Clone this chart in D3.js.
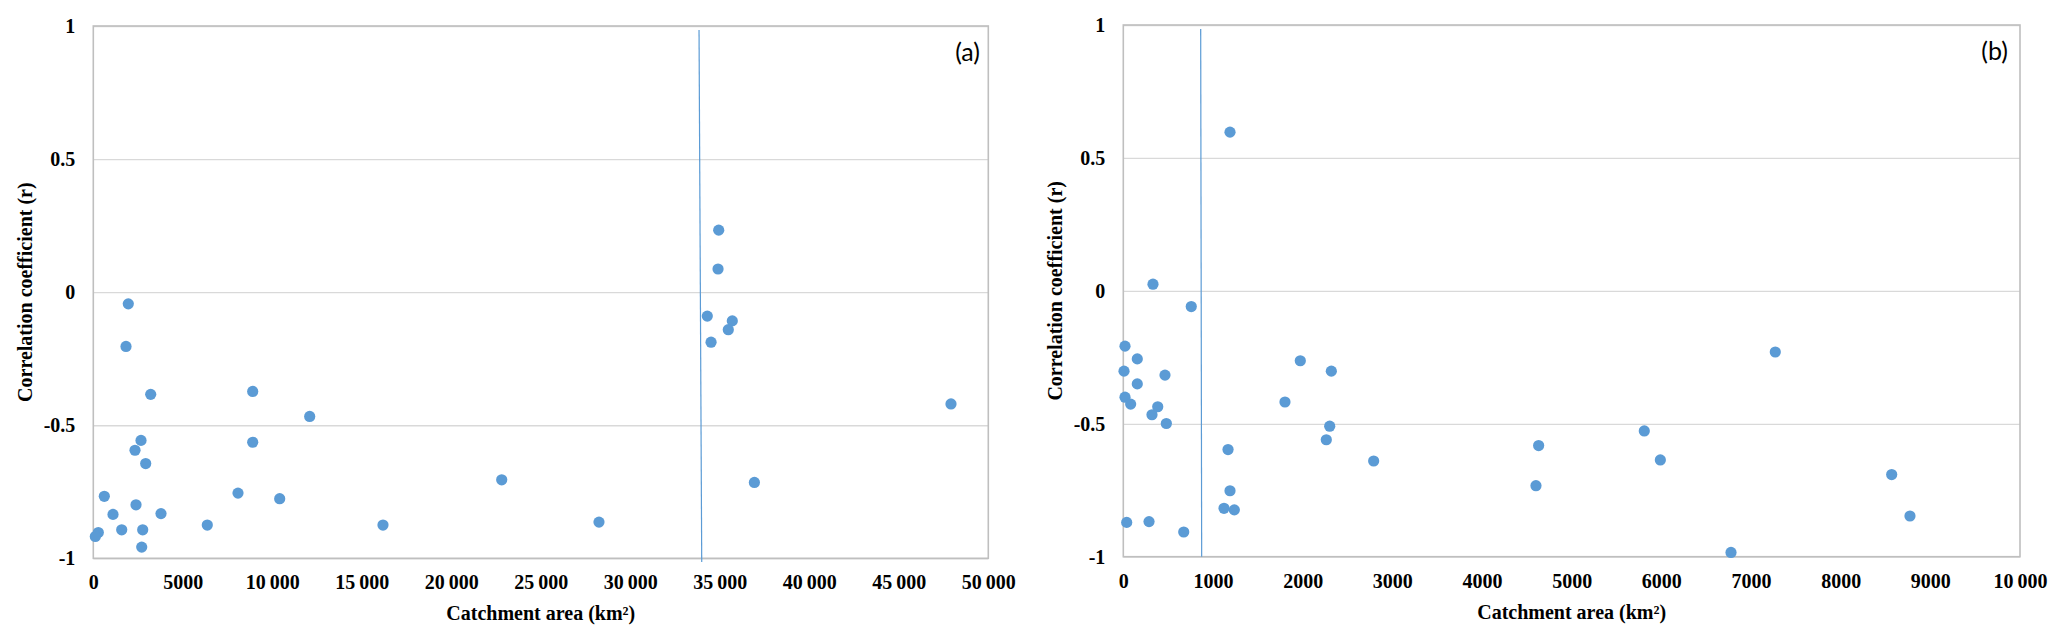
<!DOCTYPE html>
<html>
<head>
<meta charset="utf-8">
<script src="https://cdn.jsdelivr.net/npm/d3@7"></script>
<style>
  html, body { margin: 0; padding: 0; background: #fff; }
  svg { display: block; }
</style>
</head>
<body>
<svg id="chart" width="2067" height="643"></svg>
<script>
// ---------- Data ----------
// Panel (a): catchment area (km²) and correlation coefficient r
const areaA = [1955, 1827, 3207, 8905, 12089, 2665, 2330, 8905, 2927, 22816,
               615, 8084, 10413, 2386, 1101, 3782, 6369, 16184, 1587, 2760,
               279, 112, 2704, 28251, 36933, 47916, 34302, 35698, 35475, 34511,
               34939, 34902];
const corrA = [-0.044, -0.204, -0.384, -0.373, -0.467, -0.557, -0.594, -0.564, -0.644, -0.705,
               -0.767, -0.755, -0.776, -0.799, -0.835, -0.832, -0.875, -0.875, -0.893, -0.893,
               -0.903, -0.918, -0.958, -0.864, -0.715, -0.420, -0.090, -0.108, -0.141, -0.188,
               0.233, 0.087];
// Panel (b)
const areaB = [1190, 331, 758, 19, 156, 8, 465, 156, 19, 82,
               384, 320, 480, 1974, 2320, 1803, 2302, 2264, 1168, 2792,
               4632, 4602, 1190, 1123, 1238, 38, 287, 674, 7271, 5810,
               5989, 8569, 8773, 6777];
const corrB = [0.597, 0.025, -0.059, -0.208, -0.256, -0.302, -0.317, -0.350, -0.400, -0.426,
               -0.436, -0.466, -0.499, -0.263, -0.302, -0.418, -0.509, -0.560, -0.597, -0.640,
               -0.582, -0.733, -0.752, -0.818, -0.824, -0.871, -0.868, -0.907, -0.230, -0.527,
               -0.636, -0.691, -0.847, -0.984];
// Vertical reference lines (x at top, r at top, x at bottom, r at bottom)
const refLineA = [[33840, 0.985], [33990, -1.014]];
const refLineB = [[863, 0.985], [874, -1.0]];

const xTicksA = [0, 5000, 10000, 15000, 20000, 25000, 30000, 35000, 40000, 45000, 50000];
const xTicksB = [0, 1000, 2000, 3000, 4000, 5000, 6000, 7000, 8000, 9000, 10000];
const yTicks = [-1, -0.5, 0, 0.5, 1];

const xTitle = "Catchment area (km²)";
const yTitle = "Correlation coefficient (r)";

// ---------- Drawing ----------
const svg = d3.select("#chart");
const serif = "'Liberation Serif', 'Times New Roman', serif";
const dotColor = "#5B9BD5";

function fmtX(v) {
  if (v >= 10000) return d3.format(",")(v).replace(/,/g, "\u2009");
  return String(v);
}

function panel(cfg) {
  const x = d3.scaleLinear().domain(cfg.xDomain).range([cfg.left, cfg.right]);
  const y = d3.scaleLinear().domain([-1, 1]).range([cfg.bottom, cfg.top]);
  const w = cfg.right - cfg.left;
  const g = svg.append("g");

  // gridlines + y labels
  const yAxis = g.append("g")
    .attr("transform", `translate(${cfg.left},0)`)
    .call(d3.axisLeft(y).tickValues(yTicks).tickSize(-w).tickPadding(18)
      .tickFormat(d => String(d)));
  yAxis.select(".domain").remove();
  yAxis.selectAll(".tick line").attr("stroke", "#d9d9d9").attr("stroke-width", 1.3);
  yAxis.selectAll(".tick text")
    .attr("font-family", serif).attr("font-size", 20).attr("font-weight", "bold")
    .attr("fill", "#000");

  // x labels
  const xAxis = g.append("g")
    .attr("transform", `translate(0,${cfg.bottom})`)
    .call(d3.axisBottom(x).tickValues(cfg.xTicks).tickSize(0).tickPadding(17)
      .tickFormat(fmtX));
  xAxis.select(".domain").remove();
  xAxis.selectAll(".tick text")
    .attr("font-family", serif).attr("font-size", 20).attr("font-weight", "bold")
    .attr("fill", "#000");

  // frame
  g.append("rect")
    .attr("x", cfg.left).attr("y", cfg.top)
    .attr("width", w).attr("height", cfg.bottom - cfg.top)
    .attr("fill", "none").attr("stroke", "#bfbfbf").attr("stroke-width", 1.6);

  // reference line
  g.append("line")
    .attr("x1", x(cfg.ref[0][0])).attr("y1", y(cfg.ref[0][1]))
    .attr("x2", x(cfg.ref[1][0])).attr("y2", y(cfg.ref[1][1]))
    .attr("stroke", dotColor).attr("stroke-width", 1.2);

  // points
  g.append("g").selectAll("circle")
    .data(d3.range(cfg.xs.length))
    .join("circle")
    .attr("cx", i => x(cfg.xs[i]))
    .attr("cy", i => y(cfg.ys[i]))
    .attr("r", 5.6)
    .attr("fill", dotColor);

  // axis titles
  g.append("text")
    .attr("x", (cfg.left + cfg.right) / 2).attr("y", cfg.xTitleY)
    .attr("text-anchor", "middle")
    .attr("font-family", serif).attr("font-size", 20).attr("font-weight", "bold")
    .text(xTitle);
  g.append("text")
    .attr("transform", `translate(${cfg.yTitleX},${(cfg.top + cfg.bottom) / 2}) rotate(-90)`)
    .attr("text-anchor", "middle")
    .attr("font-family", serif).attr("font-size", 20).attr("font-weight", "bold")
    .text(yTitle);

  // panel label
  g.append("text")
    .attr("x", cfg.labelX).attr("y", cfg.top + 35)
    .attr("text-anchor", "end")
    .attr("font-family", "Lato, 'Open Sans', sans-serif").attr("font-size", 25)
    .attr("fill", "#000")
    .text(cfg.label);
}

panel({
  xDomain: [0, 50000], left: 93.3, right: 988.3, top: 26, bottom: 558.3,
  xTicks: xTicksA, xs: areaA, ys: corrA, ref: refLineA,
  xTitleY: 620, yTitleX: 32, labelX: 980, label: "(a)"
});
panel({
  xDomain: [0, 10000], left: 1123.3, right: 2020, top: 25, bottom: 556.7,
  xTicks: xTicksB, xs: areaB, ys: corrB, ref: refLineB,
  xTitleY: 619, yTitleX: 1062, labelX: 2008, label: "(b)"
});
</script>
</body>
</html>
